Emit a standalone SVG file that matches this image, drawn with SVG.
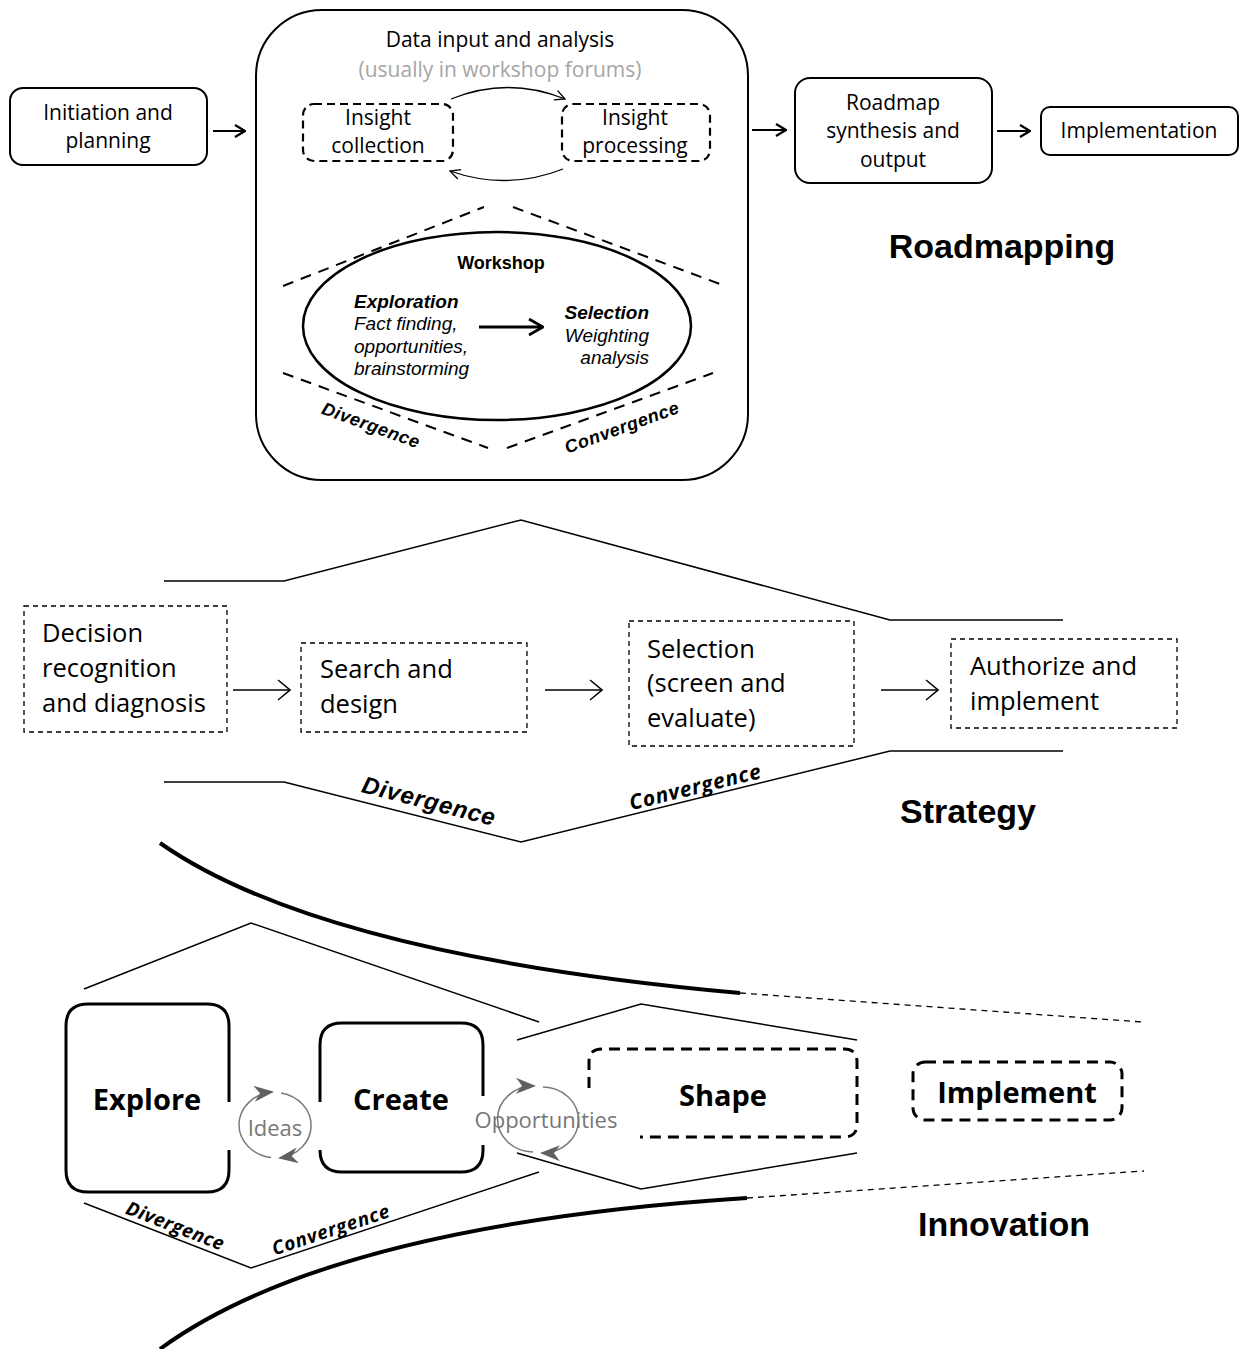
<svg xmlns="http://www.w3.org/2000/svg" width="1246" height="1349" viewBox="0 0 1246 1349">
  <defs>
    <style>
      .sans{font-family:"Open Sans","Noto Sans","Liberation Sans",sans-serif;fill:#000}
      .ar{font-family:"Liberation Sans",Arial,sans-serif;fill:#000}
      .box{fill:#fff;stroke:#000;stroke-width:2}
      .dbox{fill:none;stroke:#000;stroke-width:2.2;stroke-dasharray:8 5}
      .sbox{fill:none;stroke:#000;stroke-width:1.3;stroke-dasharray:5 4}
      .ibox{fill:none;stroke:#000;stroke-width:3}
      .idbox{fill:none;stroke:#000;stroke-width:3;stroke-dasharray:11 7}
      .dline{fill:none;stroke:#000;stroke-width:2;stroke-dasharray:11 8}
      .thin{fill:none;stroke:#000;stroke-width:1.5}
      .thick{fill:none;stroke:#000;stroke-width:4;stroke-linecap:butt}
      .tdash{fill:none;stroke:#000;stroke-width:1.3;stroke-dasharray:6 5}
      .flow{fill:none;stroke:#000;stroke-width:2}
      .cycle{fill:none;stroke:#7a7a7a;stroke-width:1.5}
      .title{font-family:"Liberation Sans",Arial,sans-serif;font-weight:bold;font-size:34px;fill:#000;text-anchor:middle}
    </style>
    <marker id="ah" viewBox="0 0 12 14" refX="11" refY="7" markerWidth="12" markerHeight="14" markerUnits="userSpaceOnUse" orient="auto">
      <path d="M1,1 L11,7 L1,13" fill="none" stroke="#000" stroke-width="2.2"/>
    </marker>
    <marker id="ahSmall" viewBox="0 0 12 12" refX="11" refY="6" markerWidth="12" markerHeight="12" markerUnits="userSpaceOnUse" orient="auto">
      <path d="M1,1 L11,6 L1,11" fill="none" stroke="#000" stroke-width="1.3"/>
    </marker>
    <marker id="ahBold" viewBox="0 0 16 18" refX="15" refY="9" markerWidth="16" markerHeight="18" markerUnits="userSpaceOnUse" orient="auto">
      <path d="M1,1 L15,9 L1,17" fill="none" stroke="#000" stroke-width="2.8"/>
    </marker>
    <marker id="ahLong" viewBox="0 0 14 22" refX="13" refY="11" markerWidth="14" markerHeight="22" markerUnits="userSpaceOnUse" orient="auto">
      <path d="M1,1 L13,11 L1,21" fill="none" stroke="#000" stroke-width="1.5"/>
    </marker>
    <marker id="ahGrey" viewBox="0 0 20 16" refX="18" refY="8" markerWidth="20" markerHeight="16" markerUnits="userSpaceOnUse" orient="auto">
      <path d="M0,0 L20,8 L0,16 L6,8 Z" fill="#606060"/>
    </marker>
  </defs>

  <rect width="1246" height="1349" fill="#fff"/>

  <!-- ===== Roadmapping ===== -->
  <g id="initiation">
    <rect class="box" x="10" y="88" width="197" height="77" rx="13"/>
    <text class="sans" font-size="21" text-anchor="middle" x="108" y="120">Initiation and</text>
    <text class="sans" font-size="21" text-anchor="middle" x="108" y="148">planning</text>
  </g>

  <g id="data-input">
    <rect class="box" x="256" y="10" width="492" height="470" rx="66"/>
    <text class="sans" font-size="21" text-anchor="middle" x="500" y="47">Data input and analysis</text>
    <text class="sans" font-size="21" text-anchor="middle" x="500" y="77" style="fill:#a6a6a6">(usually in workshop forums)</text>
  </g>

  <g id="insight-collection">
    <rect class="dbox" x="303" y="104" width="150" height="57" rx="11"/>
    <text class="sans" font-size="21" text-anchor="middle" x="378" y="125">Insight</text>
    <text class="sans" font-size="21" text-anchor="middle" x="378" y="153">collection</text>
  </g>

  <g id="insight-processing">
    <rect class="dbox" x="562" y="104" width="148" height="57" rx="11"/>
    <text class="sans" font-size="21" text-anchor="middle" x="635" y="125">Insight</text>
    <text class="sans" font-size="21" text-anchor="middle" x="635" y="153">processing</text>
  </g>

  <g id="workshop">
    <path class="dline" d="M283,286 L484,207 M513,207 L720,284 M283,373 L488,448 M507,448 L713,373"/>
    <ellipse cx="497" cy="326" rx="194" ry="94" fill="none" stroke="#000" stroke-width="2.5"/>
    <text class="ar" font-size="18" font-weight="bold" text-anchor="middle" x="501" y="269">Workshop</text>
    <text class="ar" font-size="19" font-weight="bold" font-style="italic" x="354" y="308">Exploration</text>
    <text class="ar" font-size="19" font-style="italic" x="354" y="330">Fact finding,</text>
    <text class="ar" font-size="19" font-style="italic" x="354" y="353">opportunities,</text>
    <text class="ar" font-size="19" font-style="italic" x="354" y="375">brainstorming</text>
    <text class="ar" font-size="19" font-weight="bold" font-style="italic" text-anchor="end" x="649" y="319">Selection</text>
    <text class="ar" font-size="19" font-style="italic" text-anchor="end" x="649" y="342">Weighting</text>
    <text class="ar" font-size="19" font-style="italic" text-anchor="end" x="649" y="364">analysis</text>
    <text class="ar" font-size="18" font-weight="bold" font-style="italic" letter-spacing="0.6" text-anchor="middle" transform="translate(369,431) rotate(20)">Divergence</text>
    <text class="ar" font-size="18" font-weight="bold" font-style="italic" letter-spacing="0.6" text-anchor="middle" transform="translate(624,433) rotate(-20)">Convergence</text>
  </g>

  <g id="roadmap-synthesis">
    <rect class="box" x="795" y="78" width="197" height="105" rx="15"/>
    <text class="sans" font-size="21" text-anchor="middle" x="893" y="110">Roadmap</text>
    <text class="sans" font-size="21" text-anchor="middle" x="893" y="138">synthesis and</text>
    <text class="sans" font-size="21" text-anchor="middle" x="893" y="167">output</text>
  </g>

  <g id="implementation">
    <rect class="box" x="1041" y="107" width="197" height="48" rx="9"/>
    <text class="sans" font-size="21" text-anchor="middle" x="1139" y="138">Implementation</text>
  </g>

  <text class="title" x="1002" y="258">Roadmapping</text>

  <!-- ===== Strategy ===== -->
  <g id="strategy-outline">
    <polyline class="thin" points="164,581 284,581 521,520 890,620 1063,620"/>
    <polyline class="thin" points="164,782 284,782 521,842 890,751 1063,751"/>
    <text class="ar" font-size="24" font-weight="bold" font-style="italic" letter-spacing="0.8" text-anchor="middle" transform="translate(427,809) rotate(14.4)">Divergence</text>
    <text class="sans" font-size="21" font-weight="bold" font-style="italic" letter-spacing="0.8" text-anchor="middle" transform="translate(697,794) rotate(-13.9)">Convergence</text>
  </g>

  <g id="decision">
    <rect class="sbox" x="24" y="606" width="203" height="126"/>
    <text class="sans" font-size="25.5" x="42" y="642">Decision</text>
    <text class="sans" font-size="25.5" x="42" y="677">recognition</text>
    <text class="sans" font-size="25.5" x="42" y="712">and diagnosis</text>
  </g>

  <g id="search">
    <rect class="sbox" x="301" y="643" width="226" height="89"/>
    <text class="sans" font-size="25.5" x="320" y="678">Search and</text>
    <text class="sans" font-size="25.5" x="320" y="713">design</text>
  </g>

  <g id="selection">
    <rect class="sbox" x="629" y="621" width="225" height="125"/>
    <text class="sans" font-size="25.5" x="647" y="658">Selection</text>
    <text class="sans" font-size="25.5" x="647" y="692">(screen and</text>
    <text class="sans" font-size="25.5" x="647" y="727">evaluate)</text>
  </g>

  <g id="authorize">
    <rect class="sbox" x="951" y="639" width="226" height="89"/>
    <text class="sans" font-size="25.5" x="970" y="675">Authorize and</text>
    <text class="sans" font-size="25.5" x="970" y="710">implement</text>
  </g>

  <text class="title" x="968" y="823">Strategy</text>

  <!-- ===== Innovation ===== -->
  <g id="innovation-outline">
    <path class="thick" d="M160,843 Q320,955 740,993"/>
    <path class="tdash" d="M740,993 L1142,1022"/>
    <path class="thick" d="M160,1349 Q330,1225 747,1198"/>
    <path class="tdash" d="M747,1198 L1144,1171"/>
    <polyline class="thin" points="84,989 251,923 539,1022"/>
    <polyline class="thin" points="84,1203 251,1268 539,1172"/>
    <polyline class="thin" points="517,1040 641,1004 857,1040"/>
    <polyline class="thin" points="517,1153 641,1189 857,1153"/>
    <text class="sans" font-size="19" font-weight="bold" font-style="italic" letter-spacing="0.5" text-anchor="middle" transform="translate(173,1232) rotate(21.3)">Divergence</text>
    <text class="sans" font-size="19" font-weight="bold" font-style="italic" letter-spacing="0.8" text-anchor="middle" transform="translate(333,1236) rotate(-18.4)">Convergence</text>
  </g>

  <g id="explore">
    <path class="ibox" d="M229,1150 L229,1170 Q229,1192 207,1192 L88,1192 Q66,1192 66,1170 L66,1026 Q66,1004 88,1004 L207,1004 Q229,1004 229,1026 L229,1102"/>
    <text class="sans" font-size="29" font-weight="bold" text-anchor="middle" x="147" y="1110">Explore</text>
  </g>

  <g id="create">
    <path class="ibox" d="M320,1102 L320,1045 Q320,1023 342,1023 L461,1023 Q483,1023 483,1045 L483,1096 M483,1145 L483,1150 Q483,1172 461,1172 L342,1172 Q320,1172 320,1150"/>
    <text class="sans" font-size="29" font-weight="bold" text-anchor="middle" x="401" y="1110">Create</text>
  </g>

  <g id="shape">
    <path class="idbox" d="M589,1088 L589,1062 Q589,1049 602,1049 L844,1049 Q857,1049 857,1062 L857,1124 Q857,1137 844,1137 L640,1137"/>
    <text class="sans" font-size="29" font-weight="bold" text-anchor="middle" x="723" y="1106">Shape</text>
  </g>

  <g id="implement">
    <rect class="idbox" x="913" y="1062" width="209" height="58" rx="12"/>
    <text class="sans" font-size="29" font-weight="bold" text-anchor="middle" x="1017" y="1103">Implement</text>
  </g>

  <text class="title" x="1004" y="1236">Innovation</text>

  <!-- ===== Connectors ===== -->
  <g id="connectors">
    <line class="flow" x1="213" y1="131" x2="245" y2="131" marker-end="url(#ah)"/>
    <line class="flow" x1="752" y1="130" x2="786" y2="130" marker-end="url(#ah)"/>
    <line class="flow" x1="997" y1="131" x2="1030" y2="131" marker-end="url(#ah)"/>
    <path fill="none" stroke="#000" stroke-width="1.3" d="M451,99 Q508,76 565,99" marker-end="url(#ahSmall)"/>
    <path fill="none" stroke="#000" stroke-width="1.3" d="M563,169 Q507,191 450,171" marker-end="url(#ahSmall)"/>
    <line fill="none" stroke="#000" stroke-width="2.8" x1="479" y1="327" x2="543" y2="327" marker-end="url(#ahBold)"/>
    <line class="thin" x1="233" y1="690" x2="290" y2="690" marker-end="url(#ahLong)"/>
    <line class="thin" x1="545" y1="690" x2="602" y2="690" marker-end="url(#ahLong)"/>
    <line class="thin" x1="881" y1="690" x2="938" y2="690" marker-end="url(#ahLong)"/>
    <!-- ideas cycle -->
    <path class="cycle" d="M271,1157.5 A37,33 0 0 1 272,1092" marker-end="url(#ahGrey)"/>
    <path class="cycle" d="M281,1093 A37,33 0 0 1 280,1158" marker-end="url(#ahGrey)"/>
    <!-- opportunities cycle -->
    <path class="cycle" d="M533,1152 A36,33 0 0 1 534,1086" marker-end="url(#ahGrey)"/>
    <path class="cycle" d="M543,1087 A36,33 0 0 1 542,1153" marker-end="url(#ahGrey)"/>
  </g>

  <g id="cycle-labels">
    <text class="sans" font-size="22" text-anchor="middle" x="275" y="1136" style="fill:#777">Ideas</text>
    <text class="sans" font-size="22" text-anchor="middle" x="546" y="1128" style="fill:#777">Opportunities</text>
  </g>
</svg>
